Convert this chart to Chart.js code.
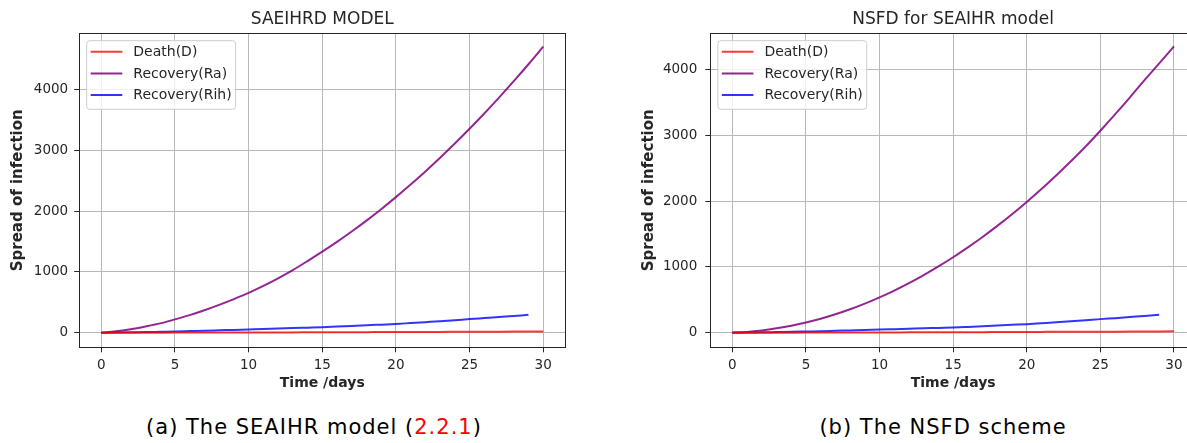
<!DOCTYPE html>
<html>
<head>
<meta charset="utf-8">
<script src="https://cdn.jsdelivr.net/npm/chart.js@4.4.1/dist/chart.umd.min.js"></script>
<style>
  html, body { margin: 0; padding: 0; background: #fff; }
  #page { position: relative; width: 1187px; height: 443px; overflow: hidden; background: #fff; }
  canvas { position: absolute; top: 0; }
  #chartA { left: 0; }
  #chartB { left: 620px; }
  .caption {
    position: absolute; top: 414px;
    font-family: 'DejaVu Sans', sans-serif; font-size: 21px; line-height: 26px;
    letter-spacing: 1px; color: #000; white-space: nowrap;
    transform: translateX(-50%);
  }
  .ref { color: #f00; }
</style>
</head>
<body>
<div id="page">
  <canvas id="chartA" width="645" height="400"></canvas>
  <canvas id="chartB" width="666" height="400"></canvas>
  <div class="caption" style="left:314px">(a) The SEAIHR model (<span class="ref">2.2.1</span>)</div>
  <div class="caption" style="left:943px">(b) The NSFD scheme</div>
</div>
<script>
// two panels: SAEIHRD model vs NSFD scheme, same three compartments

const DAYS = [0, 1, 2, 3, 4, 5, 6, 7, 8, 9, 10, 11, 12, 13, 14, 15, 16, 17, 18, 19, 20, 21, 22, 23, 24, 25, 26, 27, 28, 29, 30];
const SERIES_NAMES = ['Death(D)', 'Recovery(Ra)', 'Recovery(Rih)'];
const X_TICKS = [0, 5, 10, 15, 20, 25, 30];
const Y_TICKS = [0, 1000, 2000, 3000, 4000];

// panel (a)
const A_DEATH = [0, 1, 1, 2, 2, 3, 3, 4, 4, 5, 5, 6, 7, 7, 8, 9, 10, 10, 11, 12, 13, 14, 15, 15, 16, 17, 18, 19, 20, 21, 22];
const A_RA = [5, 25, 60, 105, 155, 220, 290, 370, 458, 553, 655, 770, 895, 1030, 1178, 1332, 1493, 1663, 1842, 2030, 2228, 2434, 2650, 2875, 3108, 3350, 3602, 3862, 4132, 4410, 4698];
const A_RIH = [0, 4, 8, 12, 17, 22, 28, 34, 41, 48, 55, 62, 70, 77, 85, 93, 103, 113, 123, 134, 145, 160, 175, 190, 207, 225, 242, 259, 277, 295];

// panel (b)
const B_DEATH = [0, 1, 1, 2, 2, 3, 3, 4, 4, 5, 5, 6, 7, 7, 8, 9, 10, 10, 11, 12, 13, 14, 15, 15, 16, 17, 18, 19, 20, 21, 22];
const B_RA = [5, 14, 36, 68, 108, 158, 215, 282, 358, 443, 538, 641, 754, 876, 1008, 1148, 1298, 1456, 1624, 1801, 1988, 2184, 2390, 2605, 2830, 3070, 3318, 3574, 3838, 4092, 4350];
const B_RIH = [0, 4, 7, 11, 15, 20, 25, 31, 37, 43, 50, 56, 62, 68, 75, 81, 90, 100, 110, 121, 132, 146, 160, 175, 191, 208, 223, 239, 256, 273];

const COLORS = ['rgba(255, 0, 0, 0.78)', 'rgba(128, 0, 128, 0.85)', 'rgba(0, 0, 255, 0.8)'];
const INK = '#262626';
const GRID = '#b8b8b8';

Chart.defaults.font.family = "'DejaVu Sans', sans-serif";
Chart.defaults.color = INK;

// top/right spines plus a matplotlib-style boxed legend inside the axes
const boxFrame = {
  id: 'boxFrame',
  afterDatasetsDraw(chart) {
    const { ctx, chartArea: a } = chart;
    ctx.save();
    ctx.strokeStyle = INK;
    ctx.lineWidth = 1;
    ctx.strokeRect(Math.round(a.left) + 0.5, Math.round(a.top) + 0.5, Math.round(a.width), Math.round(a.height));

    ctx.font = "14px 'DejaVu Sans'";
    const labels = chart.data.datasets.map(d => d.label);
    const textW = Math.max(...labels.map(l => ctx.measureText(l).width));
    const x0 = a.left + 7.5, y0 = a.top + 7.4;
    const w = 4 + 31.6 + 11 + textW + 4, h = 68.6;
    ctx.beginPath();
    ctx.roundRect(x0, y0, w, h, 3);
    ctx.fillStyle = 'rgba(255, 255, 255, 0.8)';
    ctx.fill();
    ctx.strokeStyle = '#cccccc';
    ctx.stroke();

    chart.data.datasets.forEach((d, i) => {
      const cy = y0 + 11 + i * 21.7;
      ctx.beginPath();
      ctx.moveTo(x0 + 4, cy);
      ctx.lineTo(x0 + 35.6, cy);
      ctx.strokeStyle = d.borderColor;
      ctx.lineWidth = 2;
      ctx.stroke();
      ctx.fillStyle = INK;
      ctx.textBaseline = 'middle';
      ctx.textAlign = 'left';
      ctx.fillText(d.label, x0 + 46.6, cy + 0.5);
    });
    ctx.restore();
  }
};

function toPoints(values) {
  return values.map((v, i) => ({ x: DAYS[i], y: v }));
}

function makePanel(canvasId, title, series, yRange, dims) {
  const ctx = document.getElementById(canvasId).getContext('2d');
  const datasets = series.map((vals, i) => ({
    label: SERIES_NAMES[i],
    data: toPoints(vals),
    borderColor: COLORS[i],
    backgroundColor: COLORS[i],
    borderWidth: 2,
    pointRadius: 0,
    cubicInterpolationMode: 'monotone',
    fill: false
  }));

  return new Chart(ctx, {
    type: 'line',
    data: { datasets },
    plugins: [boxFrame],
    options: {
      responsive: false,
      animation: false,
      layout: { padding: { left: 0, right: dims.padR, top: 0, bottom: dims.padB } },
      plugins: {
        legend: { display: false },
        tooltip: { enabled: false },
        title: {
          display: true,
          fullSize: false,
          text: title,
          color: INK,
          font: { size: 17, weight: 'normal' },
          padding: { top: 9.1, bottom: 3.8 }
        }
      },
      scales: {
        x: {
          type: 'linear',
          min: -1.5,
          max: 31.5,
          afterBuildTicks: s => { s.ticks = X_TICKS.map(v => ({ value: v })); },
          afterFit: s => { s.height = dims.xH; },
          grid: { color: GRID, lineWidth: 1, tickColor: INK, tickLength: 5 },
          border: { color: INK, width: 1 },
          ticks: { color: INK, font: { size: 13.5 }, padding: 5, maxRotation: 0, autoSkip: false, callback: v => String(v) },
          title: { display: true, text: 'Time /days', color: INK, font: { size: 14, weight: 'bold' }, padding: { top: 0, bottom: 0 } }
        },
        y: {
          type: 'linear',
          min: yRange[0],
          max: yRange[1],
          afterBuildTicks: s => { s.ticks = Y_TICKS.map(v => ({ value: v })); },
          afterFit: s => { s.width = dims.yW; },
          grid: { color: GRID, lineWidth: 1, tickColor: INK, tickLength: 5 },
          border: { color: INK, width: 1 },
          ticks: { color: INK, font: { size: 13.5 }, padding: dims.tickPad, callback: v => String(v) },
          title: { display: true, text: 'Spread of infection', color: INK, font: { size: 15, weight: 'bold' }, padding: { top: dims.yTitlePad, bottom: 0 } }
        }
      }
    }
  });
}

makePanel('chartA', 'SAEIHRD MODEL', [A_DEATH, A_RA, A_RIH], [-238, 4918],
  { yW: 79.2, xH: 44.9, padR: 79.7, padB: 7.8, yTitlePad: 9.1, tickPad: 6 });

makePanel('chartB', 'NSFD for SEAIHR model', [B_DEATH, B_RA, B_RIH], [-220, 4550],
  { yW: 90.3, xH: 44.9, padR: 90, padB: 7.8, yTitlePad: 20, tickPad: 8 });
</script>
</body>
</html>
